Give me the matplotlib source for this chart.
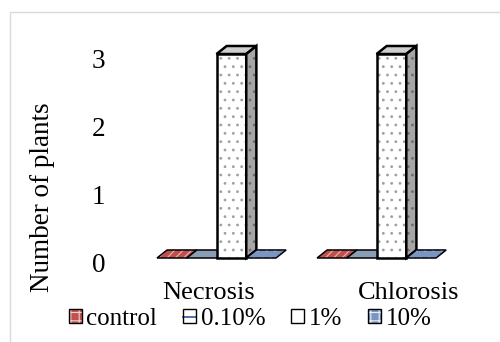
import matplotlib
matplotlib.use("Agg")
import matplotlib.pyplot as plt
from matplotlib.patches import Polygon, Rectangle, Patch
from matplotlib.lines import Line2D
from matplotlib.legend_handler import HandlerTuple
from matplotlib.transforms import ScaledTranslation

plt.rcParams["font.family"] = ["Liberation Serif", "DejaVu Serif"]
plt.rcParams["hatch.linewidth"] = 0.8

# ---- data -------------------------------------------------------------
categories = ["Necrosis", "Chlorosis"]
series_names = ["control", "0.10%", "1%", "10%"]
control = [0, 0]
conc_010 = [0, 0]
conc_1 = [3, 3]
conc_10 = [0, 0]
y_ticks = [0, 1, 2, 3]

series_values = [control, conc_010, conc_1, conc_10]

# ---- styling ----------------------------------------------------------
styles = [
    dict(front="#c0504d", side="#9c3f3c", top="#c0504d", hatch="////", hc="#eab4b2",
         leg_face="#c0504d", leg_hatch="++", leg_hc="#f3d0cf", leg_line=None),
    dict(front="#8c9db6", side="#6f7f99", top="#8c9db6", hatch="", hc="#8c9db6",
         leg_face="#ffffff", leg_hatch="", leg_hc="#ffffff", leg_line="#3f62a8"),
    dict(front="#ffffff", side="#a6a6a6", top="#cfcfcf", hatch="..", hc="#a0a0a0",
         leg_face="#ffffff", leg_hatch="", leg_hc="#ffffff", leg_line=None),
    dict(front="#7a95c2", side="#5f7aa6", top="#7a95c2", hatch="..", hc="#dfe7f3",
         leg_face="#7a95c2", leg_hatch="++", leg_hc="#e6edf7", leg_line=None),
]

bar_w = 1.0          # width of one column
group_step = 5.38    # distance between category groups
depth_x = 0.34       # 3-D depth offset (x, data units)
depth_y = 0.118      # 3-D depth offset (y, data units)

fig = plt.figure(figsize=(5, 3.42), dpi=100)
ax = fig.add_axes([0.22, 0.19591, 0.74, 0.6871])
ax.set_xlim(-1.58, 10.857)
ax.set_ylim(-0.25, 3.206)
for s in ax.spines.values():
    s.set_visible(False)
ax.patch.set_alpha(0)


def face(pts, color, hatch, hc, lw, z):
    ax.add_patch(Polygon(pts, closed=True, facecolor=color, edgecolor=hc,
                         hatch=hatch or None, lw=0, zorder=z))
    ax.add_patch(Polygon(pts, closed=True, fill=False, edgecolor="black",
                         lw=lw, joinstyle="miter", zorder=z + 0.01))


z = 2.0
for g in range(len(categories)):
    for i, vals in enumerate(series_values):
        st = styles[i]
        v = vals[g]
        x = g * group_step + i * bar_w
        lw = 1.8 if v > 0 else 1.1
        front = [(x, 0), (x + bar_w, 0), (x + bar_w, v), (x, v)]
        side = [(x + bar_w, 0), (x + bar_w + depth_x, depth_y),
                (x + bar_w + depth_x, v + depth_y), (x + bar_w, v)]
        top = [(x, v), (x + depth_x, v + depth_y),
               (x + bar_w + depth_x, v + depth_y), (x + bar_w, v)]
        face(top, st["top"], st["hatch"] if v == 0 else "", st["hc"], lw, z)
        if v > 0:
            face(front, st["front"], st["hatch"], st["hc"], lw, z + 0.02)
            face(side, st["side"], st["hatch"], "#6e6e6e", lw, z + 0.04)
        z += 0.1

# ---- axes text --------------------------------------------------------
ax.set_yticks(y_ticks)
ax.set_yticklabels([str(t) for t in y_ticks], fontsize=19.5)
ax.tick_params(axis="y", length=0, pad=3.5)
for lab in ax.get_yticklabels():
    lab.set_transform(lab.get_transform() +
                      ScaledTranslation(0, -4 / 100, fig.dpi_scale_trans))

label_pos = [1.75, 8.47]
ax.set_xticks(label_pos)
ax.set_xticklabels(categories, fontsize=19)
ax.tick_params(axis="x", length=0, pad=5)

fig.text(43 / 500, 1 - 197 / 342, "Number of plants", rotation=90,
         ha="center", va="center", fontsize=19.5)

# ---- legend -----------------------------------------------------------
handles = []
for st in styles:
    parts = [Patch(facecolor=st["leg_face"], edgecolor=st["leg_hc"],
                   hatch=st["leg_hatch"] or None, lw=0)]
    if st["leg_line"]:
        parts.append(Line2D([], [], color=st["leg_line"], lw=1.3))
    parts.append(Patch(fill=False, edgecolor="black", lw=1.0))
    handles.append(tuple(parts))
fig.legend(handles, series_names, handler_map={tuple: HandlerTuple(ndivide=1)},
           loc="center", bbox_to_anchor=(250 / 500, 1 - 319 / 342), ncol=4,
           frameon=False, fontsize=18, handlelength=0.52, handleheight=0.48,
           handletextpad=0.18, columnspacing=1.04, borderpad=0, borderaxespad=0)

# ---- chart frame ------------------------------------------------------
fig.add_artist(Rectangle((10 / 500, -0.1), 1.2, 1 - 12 / 342 + 0.1,
                         transform=fig.transFigure, fill=False,
                         edgecolor="#d9d9d9", lw=1.0))

fig.savefig("out.png", dpi=100)
